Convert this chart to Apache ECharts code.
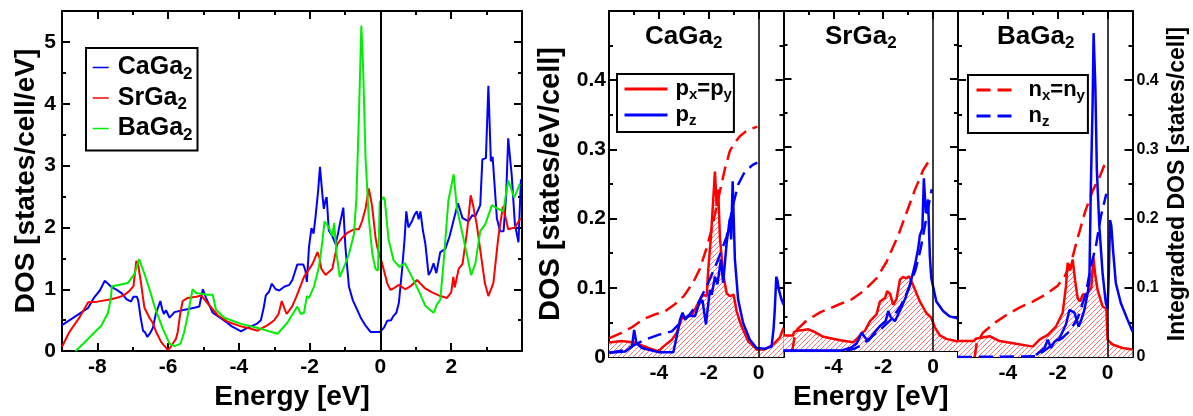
<!DOCTYPE html>
<html>
<head>
<meta charset="utf-8">
<title>DOS of CaGa2, SrGa2, BaGa2</title>
<script src="https://cdn.jsdelivr.net/npm/echarts@6/dist/echarts.min.js"></script>
<style>
  html, body { margin: 0; padding: 0; background: #fff; }
  #chart { width: 1193px; height: 416px; }
</style>
</head>
<body>
<div id="chart"></div>
<script>
// ---- total DOS (left panel), [energy, states/cell/eV] ----
const caTotal = [[-9,0.42],[-8.6,0.57],[-8.26,0.7],[-8.1,0.86],[-7.93,0.98],[-7.79,1.14],[-7.7,1.09],[-7.61,1.04],[-7.45,0.99],[-7.3,0.93],[-7.18,0.84],[-7.05,0.8],[-6.98,0.88],[-6.93,0.86],[-6.88,0.88],[-6.84,0.8],[-6.78,0.55],[-6.71,0.33],[-6.65,0.3],[-6.59,0.23],[-6.5,0.3],[-6.43,0.38],[-6.35,0.6],[-6.22,0.81],[-6.17,0.68],[-6.12,0.6],[-6.06,0.66],[-5.96,0.54],[-5.82,0.63],[-5.6,0.66],[-5.26,0.7],[-5.12,0.72],[-5.02,1.0],[-4.93,0.86],[-4.74,0.62],[-4.41,0.49],[-4.2,0.4],[-3.94,0.32],[-3.75,0.38],[-3.5,0.44],[-3.38,0.5],[-3.3,0.7],[-3.24,0.9],[-3.15,0.96],[-3.07,1.09],[-2.96,1.0],[-2.86,0.98],[-2.72,1.04],[-2.58,1.07],[-2.49,1.15],[-2.35,1.4],[-2.18,1.4],[-2.12,1.3],[-2.08,1.12],[-2.02,1.68],[-1.95,1.99],[-1.89,1.9],[-1.83,2.2],[-1.76,2.6],[-1.71,2.98],[-1.64,2.52],[-1.6,2.3],[-1.55,2.45],[-1.52,2.49],[-1.46,1.95],[-1.36,1.86],[-1.27,1.73],[-1.2,1.9],[-1.15,2.05],[-1.05,2.32],[-0.99,1.68],[-0.89,1.04],[-0.78,0.82],[-0.66,0.67],[-0.55,0.53],[-0.42,0.41],[-0.28,0.31],[-0.02,0.31],[0.1,0.38],[0.19,0.49],[0.3,0.5],[0.37,0.57],[0.45,0.62],[0.52,0.78],[0.61,1.31],[0.68,1.8],[0.73,2.26],[0.79,2.0],[0.89,2.1],[0.96,2.2],[1.03,2.26],[1.08,2.13],[1.13,2.26],[1.2,1.95],[1.27,1.73],[1.36,1.23],[1.43,1.3],[1.5,1.42],[1.58,1.26],[1.69,1.6],[1.83,1.65],[1.95,1.85],[2.06,2.1],[2.19,2.39],[2.32,2.15],[2.49,2.1],[2.6,2.2],[2.68,2.18],[2.82,2.36],[2.88,3.1],[2.98,3.12],[3.05,4.29],[3.12,3.07],[3.17,3.14],[3.29,2.15],[3.38,1.94],[3.48,1.94],[3.55,2.5],[3.61,3.44],[3.71,2.84],[3.8,2.05],[3.9,1.76],[3.97,2.78]];
const srTotal = [[-9,0.07],[-8.8,0.3],[-8.5,0.55],[-8.26,0.79],[-8.0,0.8],[-7.61,0.84],[-7.4,0.87],[-7.23,0.91],[-7.1,0.97],[-6.98,1.05],[-6.93,1.3],[-6.9,1.46],[-6.85,1.4],[-6.78,1.15],[-6.72,0.9],[-6.67,0.7],[-6.53,0.54],[-6.43,0.45],[-6.34,0.31],[-6.2,0.15],[-6.1,0.08],[-6.01,0.02],[-5.95,0.05],[-5.87,0.12],[-5.78,0.2],[-5.73,0.31],[-5.66,0.6],[-5.59,0.81],[-5.45,0.86],[-5.2,0.88],[-5.07,0.9],[-4.88,0.77],[-4.6,0.58],[-4.3,0.47],[-3.94,0.4],[-3.66,0.36],[-3.47,0.33],[-3.19,0.42],[-3.0,0.5],[-2.88,0.6],[-2.79,0.81],[-2.72,0.7],[-2.65,0.6],[-2.5,0.72],[-2.39,0.86],[-2.27,1.04],[-2.16,1.2],[-1.92,1.41],[-1.78,1.6],[-1.72,1.5],[-1.67,1.33],[-1.55,1.23],[-1.36,1.33],[-1.22,1.73],[-1.1,1.82],[-0.94,1.91],[-0.75,1.97],[-0.61,1.97],[-0.52,2.1],[-0.42,2.31],[-0.33,2.63],[-0.24,2.36],[-0.14,1.84],[-0.09,1.68],[0.05,1.41],[0.19,1.1],[0.28,0.99],[0.38,1.02],[0.52,1.07],[0.7,1.0],[0.85,1.05],[1.03,1.15],[1.25,1.02],[1.46,0.95],[1.65,0.9],[1.88,0.86],[2.0,0.95],[2.06,1.2],[2.1,1.03],[2.21,1.33],[2.32,1.41],[2.45,1.95],[2.55,2.52],[2.62,2.35],[2.72,2.05],[2.86,1.47],[2.95,1.1],[3.05,0.89],[3.19,1.1],[3.33,1.84],[3.46,2.34],[3.52,2.2],[3.61,1.97],[3.8,2.0],[3.96,2.15]];
const baTotal = [[-8.62,0],[-8.59,0.02],[-8.4,0.12],[-8.26,0.2],[-8.0,0.35],[-7.89,0.41],[-7.7,0.62],[-7.62,0.85],[-7.59,1.05],[-7.4,1.07],[-7.14,1.1],[-6.95,1.25],[-6.82,1.49],[-6.67,1.25],[-6.5,0.95],[-6.39,0.73],[-6.15,0.36],[-5.96,0.12],[-5.82,0.08],[-5.65,0.12],[-5.55,0.3],[-5.45,0.57],[-5.31,1.0],[-5.21,0.94],[-4.88,0.91],[-4.74,0.91],[-4.65,0.67],[-4.41,0.54],[-3.94,0.44],[-3.38,0.36],[-2.91,0.28],[-2.63,0.46],[-2.35,0.72],[-2.25,0.6],[-2.16,0.62],[-2.08,0.89],[-2.02,0.86],[-1.88,1.04],[-1.74,1.36],[-1.64,1.78],[-1.58,2.1],[-1.46,2.0],[-1.36,1.86],[-1.31,2.07],[-1.24,1.57],[-1.15,1.2],[-1.03,1.36],[-0.89,1.57],[-0.75,1.89],[-0.68,2.47],[-0.61,3.79],[-0.54,5.26],[-0.49,4.58],[-0.42,3.1],[-0.33,2.15],[-0.23,1.57],[-0.14,1.33],[-0.07,1.3],[-0.02,2.41],[0.09,2.49],[0.12,2.45],[0.23,1.8],[0.37,1.47],[0.54,1.36],[0.69,1.42],[0.89,1.2],[1.1,0.95],[1.27,0.73],[1.5,0.62],[1.6,0.76],[1.69,0.83],[1.78,1.41],[1.92,2.44],[2.07,2.86],[2.16,2.31],[2.3,1.94],[2.44,1.57],[2.56,1.23],[2.68,1.41],[2.82,1.94],[2.96,2.05],[3.15,2.36],[3.29,2.31],[3.47,2.26],[3.61,2.76],[3.78,2.48],[3.94,2.71]];

// ---- partial DOS (solid) and integrated DOS (dashed), right panels ----
const caPxy = [[-6,0.021],[-5.5,0.023],[-5.0,0.021],[-4.42,0.013],[-4.02,0.008],[-3.82,0.015],[-3.48,0.025],[-3.28,0.035],[-3.08,0.056],[-2.68,0.06],[-2.42,0.078],[-2.24,0.09],[-2.08,0.088],[-2.02,0.126],[-1.91,0.174],[-1.82,0.227],[-1.75,0.268],[-1.68,0.218],[-1.62,0.242],[-1.55,0.172],[-1.42,0.12],[-1.28,0.092],[-1.15,0.088],[-1.0,0.09],[-0.88,0.066],[-0.68,0.044],[-0.42,0.023],[-0.08,0.011],[0.25,0.011],[0.58,0.018],[0.85,0.028],[1.0,0.042]];
const caPz = [[-6,0.006],[-5.35,0.008],[-5.08,0.015],[-4.99,0.039],[-4.9,0.02],[-4.68,0.013],[-4.02,0.007],[-3.42,0.007],[-3.28,0.03],[-3.15,0.054],[-3.05,0.064],[-2.95,0.054],[-2.82,0.06],[-2.55,0.059],[-2.38,0.078],[-2.25,0.082],[-2.11,0.047],[-2.04,0.07],[-1.95,0.097],[-1.88,0.09],[-1.75,0.116],[-1.65,0.105],[-1.51,0.141],[-1.42,0.107],[-1.28,0.165],[-1.15,0.2],[-1.1,0.17],[-1.04,0.254],[-0.95,0.141],[-0.82,0.083],[-0.62,0.049],[-0.35,0.025],[-0.08,0.013],[0.25,0.012],[0.52,0.015],[0.6,0.04],[0.65,0.068],[0.71,0.116],[0.76,0.11],[0.81,0.098],[0.92,0.083],[1.0,0.076]];
const caNxy = [[-6,0.027],[-5.5,0.035],[-5.08,0.043],[-4.6,0.055],[-4.2,0.061],[-3.75,0.066],[-3.4,0.075],[-3.0,0.088],[-2.62,0.108],[-2.35,0.128],[-2.08,0.158],[-1.88,0.185],[-1.68,0.218],[-1.51,0.246],[-1.35,0.272],[-1.15,0.298],[-0.95,0.31],[-0.75,0.319],[-0.55,0.325],[-0.35,0.329],[-0.05,0.333]];
const caNz = [[-6,0.006],[-5.35,0.01],[-4.95,0.018],[-4.55,0.025],[-4.02,0.032],[-3.48,0.037],[-3.15,0.049],[-2.82,0.059],[-2.42,0.078],[-2.02,0.107],[-1.62,0.141],[-1.28,0.174],[-1.02,0.22],[-0.82,0.249],[-0.55,0.268],[-0.22,0.278],[-0.05,0.281]];

const srPxy = [[-6,0.023],[-5.62,0.023],[-5.58,0.028],[-5.47,0.03],[-5.2,0.031],[-5.0,0.032],[-4.8,0.029],[-4.4,0.021],[-3.73,0.016],[-3.2,0.013],[-3.0,0.02],[-2.86,0.027],[-2.73,0.03],[-2.53,0.044],[-2.27,0.054],[-2.13,0.073],[-1.93,0.078],[-1.84,0.088],[-1.72,0.084],[-1.6,0.068],[-1.47,0.076],[-1.33,0.105],[-1.2,0.109],[-1.07,0.107],[-0.96,0.11],[-0.8,0.097],[-0.53,0.073],[-0.27,0.056],[-0.07,0.049],[0.07,0.035],[0.27,0.023],[0.53,0.018],[1.0,0.014]];
const srPz = [[-6,0.001],[-3.67,0.001],[-3.3,0.005],[-3.07,0.011],[-2.95,0.02],[-2.86,0.027],[-2.73,0.02],[-2.6,0.015],[-2.4,0.025],[-2.13,0.037],[-1.9,0.044],[-1.8,0.059],[-1.7,0.05],[-1.53,0.044],[-1.27,0.064],[-1.09,0.08],[-0.93,0.097],[-0.73,0.126],[-0.6,0.15],[-0.53,0.17],[-0.43,0.18],[-0.37,0.254],[-0.29,0.203],[-0.2,0.223],[-0.13,0.14],[-0.07,0.107],[0.13,0.073],[0.4,0.059],[0.67,0.051],[1.0,0.048]];
const srNxy = [[-5.65,0],[-5.55,0.022],[-5.45,0.032],[-5.07,0.045],[-4.53,0.057],[-3.87,0.067],[-3.27,0.076],[-2.8,0.088],[-2.27,0.107],[-1.87,0.131],[-1.4,0.17],[-1.07,0.203],[-0.73,0.237],[-0.4,0.266],[-0.07,0.285]];
const srNz = [[-6,0],[-3.6,0],[-3.2,0.003],[-2.9,0.008],[-2.5,0.02],[-2.1,0.032],[-1.7,0.046],[-1.3,0.066],[-1.0,0.09],[-0.7,0.12],[-0.5,0.15],[-0.3,0.19],[-0.15,0.22],[-0.05,0.238]];

const baPxy = [[-6,0.023],[-5.36,0.023],[-5.3,0.026],[-5.2,0.027],[-4.73,0.03],[-4.33,0.023],[-3.67,0.019],[-3.0,0.015],[-2.73,0.025],[-2.4,0.032],[-2.07,0.044],[-1.8,0.064],[-1.67,0.102],[-1.6,0.136],[-1.5,0.125],[-1.4,0.141],[-1.3,0.11],[-1.2,0.085],[-1.1,0.08],[-1.0,0.09],[-0.8,0.092],[-0.65,0.1],[-0.57,0.145],[-0.5,0.12],[-0.4,0.097],[-0.2,0.073],[-0.05,0.07],[0.0,0.025],[0.2,0.018],[0.6,0.013],[1.0,0.011]];
const baPz = [[-2.87,0.003],[-2.53,0.013],[-2.4,0.025],[-2.27,0.013],[-2.13,0.022],[-1.93,0.027],[-1.67,0.047],[-1.53,0.068],[-1.33,0.064],[-1.16,0.044],[-1.07,0.052],[-0.93,0.068],[-0.8,0.092],[-0.73,0.11],[-0.67,0.247],[-0.6,0.367],[-0.56,0.468],[-0.49,0.39],[-0.43,0.27],[-0.33,0.189],[-0.2,0.121],[-0.07,0.078],[0.0,0.07],[0.05,0.12],[0.1,0.198],[0.15,0.19],[0.23,0.15],[0.33,0.107],[0.53,0.078],[0.8,0.054],[1.0,0.037]];
const baNxy = [[-5.33,0],[-5.25,0.02],[-5.0,0.035],[-4.5,0.05],[-4.0,0.062],[-3.5,0.072],[-3.0,0.08],[-2.5,0.09],[-2.0,0.103],[-1.7,0.118],[-1.4,0.145],[-1.2,0.172],[-0.9,0.21],[-0.6,0.24],[-0.3,0.262],[-0.1,0.28]];
const baNz = [[-6,0],[-2.87,0.001],[-2.5,0.01],[-2.2,0.018],[-1.8,0.028],[-1.53,0.037],[-1.2,0.056],[-0.87,0.092],[-0.67,0.131],[-0.47,0.16],[-0.27,0.203],[-0.05,0.236]];

// ---- tick values ----
const eTicksL = [-8, -6, -4, -2, 0, 2];
const eMinorL = [-7, -5, -3, -1, 1, 3];
const dosTicks = [0, 1, 2, 3, 4, 5];
const dosMinor = [0.5, 1.5, 2.5, 3.5, 4.5];
const eTicksR = [-4, -2, 0];
const eMinorR = [-5, -3, -1];
const pdosTicks = [0, 0.1, 0.2, 0.3, 0.4];
const pdosMinor = [0.05, 0.15, 0.25, 0.35, 0.45];

const compounds = ['CaGa2', 'SrGa2', 'BaGa2'];
const FONT = "'Liberation Sans', Arial, Helvetica, sans-serif";

function richStyle(main, sub) {
  return {
    m: { fontFamily: FONT, fontWeight: 'bold', fontSize: main, color: '#000', lineHeight: Math.round(main * 1.2) },
    s: { fontFamily: FONT, fontWeight: 'bold', fontSize: sub, color: '#000', lineHeight: 8, verticalAlign: 'bottom' }
  };
}
const labelText = {
  CaGa2: '{m|CaGa}{s|2}', SrGa2: '{m|SrGa}{s|2}', BaGa2: '{m|BaGa}{s|2}',
  pxy: '{m|p}{s|x}{m|=p}{s|y}', pz: '{m|p}{s|z}',
  nxy: '{m|n}{s|x}{m|=n}{s|y}', nz: '{m|n}{s|z}'
};

// thin red hatch used under the p_x=p_y curves
function makeHatch() {
  const c = document.createElement('canvas');
  c.width = 5; c.height = 5;
  const ctx = c.getContext('2d');
  ctx.fillStyle = '#ffffff';
  ctx.fillRect(0, 0, 5, 5);
  ctx.strokeStyle = 'rgb(245,105,105)';
  ctx.lineWidth = 0.9;
  ctx.beginPath();
  ctx.moveTo(0, 5); ctx.lineTo(5, 0);
  ctx.moveTo(-1, 1); ctx.lineTo(1, -1);
  ctx.moveTo(4, 6); ctx.lineTo(6, 4);
  ctx.stroke();
  return c.toDataURL();
}
const hatch = makeHatch();

const grids = [
  { left: 62, top: 11, width: 460, height: 348 },
  { left: 609, top: 11, width: 174.5, height: 346 },
  { left: 783.5, top: 11, width: 174.5, height: 346 },
  { left: 958, top: 11, width: 174.5, height: 346 }
];

const xAxes = [], yAxes = [];

function tickAxis(g, min, max, pos, ticks, len, showLine, label, name) {
  const ax = {
    gridIndex: g, type: 'value', min: min, max: max, position: pos, silent: true,
    splitLine: { show: false },
    axisLine: { show: showLine, onZero: false, lineStyle: { color: '#000', width: 2 } },
    axisTick: { show: true, inside: true, length: len, customValues: ticks, lineStyle: { color: '#000', width: 2 } },
    axisLabel: { show: false }
  };
  if (label) {
    ax.axisLabel = {
      show: true, customValues: label.values, margin: label.margin,
      fontFamily: FONT, fontWeight: 'bold', fontSize: label.size, color: '#000'
    };
  }
  if (name) {
    ax.name = name.text;
    ax.nameLocation = 'middle';
    ax.nameGap = name.gap;
    ax.nameTextStyle = { fontFamily: FONT, fontWeight: 'bold', fontSize: name.size, color: '#000' };
  }
  return ax;
}

// box frame with ticks on all four sides; returns indices of the bottom / left axes
function frame(g, xr, xMajor, xMinor, yr, yMajor, yMinor, o) {
  const idx = { x: xAxes.length, y: yAxes.length };
  xAxes.push(tickAxis(g, xr[0], xr[1], 'bottom', xMajor, 8, true, o.xLabel, o.xName));
  xAxes.push(tickAxis(g, xr[0], xr[1], 'bottom', xMinor, 4, false));
  xAxes.push(tickAxis(g, xr[0], xr[1], 'top', xMajor, 8, true));
  xAxes.push(tickAxis(g, xr[0], xr[1], 'top', xMinor, 4, false));
  yAxes.push(tickAxis(g, yr[0], yr[1], 'left', yMajor, 8, true, o.yLabel, o.yName));
  yAxes.push(tickAxis(g, yr[0], yr[1], 'left', yMinor, 4, false));
  yAxes.push(tickAxis(g, yr[0], yr[1], 'right', yMajor, 8, true, o.rLabel, o.rName));
  yAxes.push(tickAxis(g, yr[0], yr[1], 'right', yMinor, 4, false));
  return idx;
}

const axL = frame(0, [-9, 4], eTicksL, eMinorL, [0, 5.5], dosTicks, dosMinor, {
  xLabel: { values: eTicksL, margin: 6, size: 21 },
  xName: { text: 'Energy [eV]', gap: 27, size: 28 },
  yLabel: { values: dosTicks, margin: 6, size: 21 },
  yName: { text: 'DOS [states/cell/eV]', gap: 20, size: 28 }
});
const axR = [1, 2, 3].map(function (g) {
  return frame(g, [-6, 1], eTicksR, eMinorR, [0, 0.5], pdosTicks, pdosMinor, {
    xLabel: { values: eTicksR, margin: 6, size: 21 },
    xName: g === 2 ? { text: 'Energy [eV]', gap: 27, size: 28 } : null,
    yLabel: g === 1 ? { values: pdosTicks, margin: 3, size: 21 } : null,
    yName: g === 1 ? { text: 'DOS [states/eV/cell]', gap: 44, size: 29 } : null,
    rLabel: g === 3 ? { values: pdosTicks, margin: 4, size: 16 } : null,
    rName: g === 3 ? { text: 'Integradted DOS [states/cell]', gap: 34, size: 23 } : null
  });
});

const zeroLine = function (w) {
  return {
    silent: true, symbol: ['none', 'none'], label: { show: false }, animation: false,
    lineStyle: { color: '#000', width: w, type: 'solid' }, data: [{ xAxis: 0 }]
  };
};

function line(name, data, color, ax, width, dashed) {
  return {
    type: 'line', name: name, data: data, xAxisIndex: ax.x, yAxisIndex: ax.y,
    symbol: 'none', showSymbol: false, silent: true, animation: false,
    lineStyle: { color: color, width: width, type: dashed ? [14, 7] : 'solid' },
    itemStyle: { color: color }
  };
}

const series = [];
const left = [line('CaGa2', caTotal, '#0000ff', axL, 2), line('SrGa2', srTotal, '#ff0000', axL, 2), line('BaGa2', baTotal, '#00ee00', axL, 2)];
left[0].markLine = zeroLine(2);
series.push.apply(series, left);

const panels = [
  [caPxy, caPz, caNxy, caNz],
  [srPxy, srPz, srNxy, srNz],
  [baPxy, baPz, baNxy, baNz]
];
panels.forEach(function (p, i) {
  const ax = axR[i];
  const px = line('pxy', p[0], '#ff0000', ax, 2.5);
  px.areaStyle = { color: { image: hatch, repeat: 'repeat' }, opacity: 1 };
  px.markLine = zeroLine(1.5);
  series.push(px);
  series.push(line('nxy', p[2], '#ff0000', ax, 2.5, true));
  series.push(line('nz', p[3], '#0000ff', ax, 2.5, true));
  series.push(line('pz', p[1], '#0000ff', ax, 2.5));
});

function legendBox(names, left, top, pad, itemW, gap, main, sub, lineW, textPad) {
  return {
    data: names, orient: 'vertical', left: left, top: top, padding: pad,
    itemWidth: itemW, itemHeight: 10, itemGap: gap, selectedMode: false,
    borderColor: '#000', borderWidth: 2, borderRadius: 0, backgroundColor: '#fff',
    lineStyle: { width: lineW }, itemStyle: { opacity: 0 },
    formatter: function (n) { return labelText[n]; },
    textStyle: { padding: [0, 0, 0, textPad], rich: richStyle(main, sub) }
  };
}

const titles = [
  { name: 'CaGa2', x: 645 }, { name: 'SrGa2', x: 825 }, { name: 'BaGa2', x: 997 }
].map(function (t) {
  return { text: labelText[t.name], left: t.x, top: 21, padding: 0, textStyle: { rich: richStyle(26, 17) } };
});

const chart = echarts.init(document.getElementById('chart'), null, { renderer: 'canvas' });
chart.setOption({
  animation: false,
  backgroundColor: '#fff',
  title: titles,
  grid: grids,
  xAxis: xAxes,
  yAxis: yAxes,
  legend: [
    legendBox(compounds, 86, 48, [7, 5, 7, 6], 16, 3, 25, 17, 1.5, 4),
    legendBox(['pxy', 'pz'], 617, 74, [4, 2, 4, 6], 43, 2, 22, 15, 3, 3),
    legendBox(['nxy', 'nz'], 968, 75, [4, 3, 4, 7], 42, 2, 22, 15, 3, 5)
  ],
  series: series
});
</script>
</body>
</html>
